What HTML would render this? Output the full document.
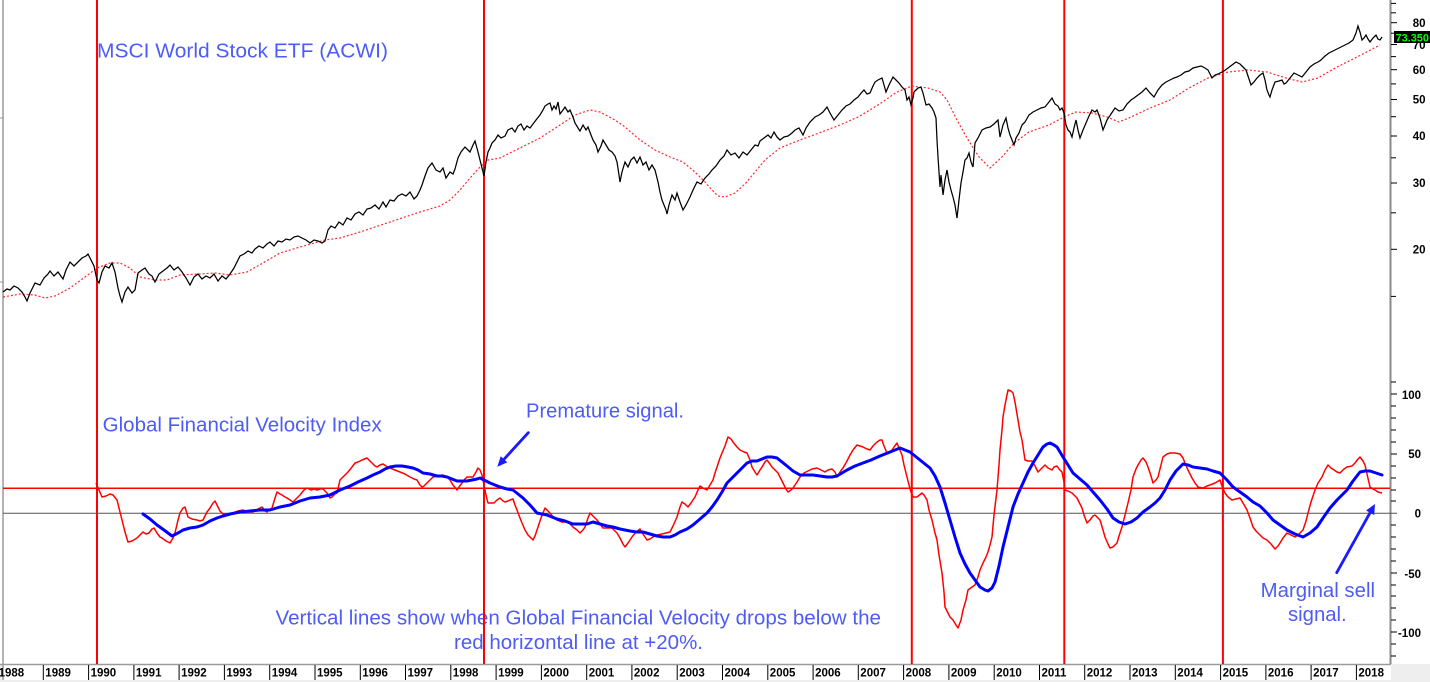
<!DOCTYPE html>
<html>
<head>
<meta charset="utf-8">
<style>
html,body{margin:0;padding:0;background:#fff;}
svg{display:block;}
.yl{font-family:"Liberation Sans",Arial,sans-serif;font-weight:bold;font-size:11.5px;fill:#000;}
.an{font-family:"Liberation Sans",Arial,sans-serif;font-size:20px;fill:#4d5cf6;}
</style>
</head>
<body>
<svg width="1430" height="682" viewBox="0 0 1430 682" xmlns="http://www.w3.org/2000/svg">
<rect x="0" y="0" width="1430" height="682" fill="#ffffff"/>
<!-- bottom strip -->
<rect x="0" y="664" width="1430" height="18" fill="#eeeeee"/>
<rect x="3" y="665" width="1388" height="15" fill="#ffffff"/>
<line x1="0" y1="664.5" x2="1391" y2="664.5" stroke="#9a9a9a" stroke-width="1.5"/>

<!-- left border -->
<line x1="3" y1="0" x2="3" y2="680" stroke="#9a9a9a" stroke-width="1.5"/>
<line x1="0" y1="118" x2="3" y2="118" stroke="#9a9a9a" stroke-width="1"/>
<line x1="0" y1="282" x2="3" y2="282" stroke="#9a9a9a" stroke-width="1"/>

<!-- year separators & labels -->
<g stroke="#000" stroke-width="1">
<line x1="43.3" y1="665" x2="43.3" y2="680"/>
<line x1="88.6" y1="665" x2="88.6" y2="680"/>
<line x1="133.9" y1="665" x2="133.9" y2="680"/>
<line x1="179.1" y1="665" x2="179.1" y2="680"/>
<line x1="224.4" y1="665" x2="224.4" y2="680"/>
<line x1="269.7" y1="665" x2="269.7" y2="680"/>
<line x1="315" y1="665" x2="315" y2="680"/>
<line x1="360.3" y1="665" x2="360.3" y2="680"/>
<line x1="405.5" y1="665" x2="405.5" y2="680"/>
<line x1="450.8" y1="665" x2="450.8" y2="680"/>
<line x1="496.1" y1="665" x2="496.1" y2="680"/>
<line x1="541.4" y1="665" x2="541.4" y2="680"/>
<line x1="586.7" y1="665" x2="586.7" y2="680"/>
<line x1="631.9" y1="665" x2="631.9" y2="680"/>
<line x1="677.2" y1="665" x2="677.2" y2="680"/>
<line x1="722.5" y1="665" x2="722.5" y2="680"/>
<line x1="767.8" y1="665" x2="767.8" y2="680"/>
<line x1="813.1" y1="665" x2="813.1" y2="680"/>
<line x1="858.3" y1="665" x2="858.3" y2="680"/>
<line x1="903.6" y1="665" x2="903.6" y2="680"/>
<line x1="948.9" y1="665" x2="948.9" y2="680"/>
<line x1="994.2" y1="665" x2="994.2" y2="680"/>
<line x1="1039.5" y1="665" x2="1039.5" y2="680"/>
<line x1="1084.7" y1="665" x2="1084.7" y2="680"/>
<line x1="1130" y1="665" x2="1130" y2="680"/>
<line x1="1175.3" y1="665" x2="1175.3" y2="680"/>
<line x1="1220.6" y1="665" x2="1220.6" y2="680"/>
<line x1="1265.9" y1="665" x2="1265.9" y2="680"/>
<line x1="1311.1" y1="665" x2="1311.1" y2="680"/>
<line x1="1356.4" y1="665" x2="1356.4" y2="680"/>
</g>
<g class="yl">
<text x="-1.4" y="676.5">1988</text>
<text x="45.3" y="676.5">1989</text>
<text x="90.6" y="676.5">1990</text>
<text x="135.9" y="676.5">1991</text>
<text x="181.1" y="676.5">1992</text>
<text x="226.4" y="676.5">1993</text>
<text x="271.7" y="676.5">1994</text>
<text x="317" y="676.5">1995</text>
<text x="362.3" y="676.5">1996</text>
<text x="407.5" y="676.5">1997</text>
<text x="452.8" y="676.5">1998</text>
<text x="498.1" y="676.5">1999</text>
<text x="543.4" y="676.5">2000</text>
<text x="588.7" y="676.5">2001</text>
<text x="633.9" y="676.5">2002</text>
<text x="679.2" y="676.5">2003</text>
<text x="724.5" y="676.5">2004</text>
<text x="769.8" y="676.5">2005</text>
<text x="815.1" y="676.5">2006</text>
<text x="860.3" y="676.5">2007</text>
<text x="905.6" y="676.5">2008</text>
<text x="950.9" y="676.5">2009</text>
<text x="996.2" y="676.5">2010</text>
<text x="1041.5" y="676.5">2011</text>
<text x="1086.7" y="676.5">2012</text>
<text x="1132" y="676.5">2013</text>
<text x="1177.3" y="676.5">2014</text>
<text x="1222.6" y="676.5">2015</text>
<text x="1267.9" y="676.5">2016</text>
<text x="1313.1" y="676.5">2017</text>
<text x="1358.4" y="676.5">2018</text>
</g>

<!-- right axis -->
<line x1="1390.5" y1="0" x2="1390.5" y2="664" stroke="#8a8a8a" stroke-width="2"/>
<g stroke="#000" stroke-width="1">
<line x1="1391" y1="3.4" x2="1396" y2="3.4"/>
<line x1="1391" y1="12.8" x2="1396" y2="12.8"/>
<line x1="1391" y1="22.7" x2="1397" y2="22.7"/>
<line x1="1391" y1="33.2" x2="1396" y2="33.2"/>
<line x1="1391" y1="44.5" x2="1397" y2="44.5"/>
<line x1="1391" y1="56.6" x2="1396" y2="56.6"/>
<line x1="1391" y1="69.7" x2="1397" y2="69.7"/>
<line x1="1391" y1="83.9" x2="1396" y2="83.9"/>
<line x1="1391" y1="99.5" x2="1397" y2="99.5"/>
<line x1="1391" y1="116.7" x2="1396" y2="116.7"/>
<line x1="1391" y1="136" x2="1397" y2="136"/>
<line x1="1391" y1="157.8" x2="1396" y2="157.8"/>
<line x1="1391" y1="183" x2="1397" y2="183"/>
<line x1="1391" y1="212.8" x2="1396" y2="212.8"/>
<line x1="1391" y1="249.3" x2="1397" y2="249.3"/>
<line x1="1391" y1="296.4" x2="1396" y2="296.4"/>
<!-- lower ticks -->
<line x1="1391" y1="382" x2="1396" y2="382"/>
<line x1="1391" y1="394" x2="1397" y2="394"/>
<line x1="1391" y1="406" x2="1396" y2="406"/>
<line x1="1391" y1="418" x2="1396" y2="418"/>
<line x1="1391" y1="430" x2="1396" y2="430"/>
<line x1="1391" y1="442" x2="1396" y2="442"/>
<line x1="1391" y1="454" x2="1397" y2="454"/>
<line x1="1391" y1="466" x2="1396" y2="466"/>
<line x1="1391" y1="478" x2="1396" y2="478"/>
<line x1="1391" y1="490" x2="1396" y2="490"/>
<line x1="1391" y1="501" x2="1396" y2="501"/>
<line x1="1391" y1="525" x2="1396" y2="525"/>
<line x1="1391" y1="537" x2="1396" y2="537"/>
<line x1="1391" y1="549" x2="1396" y2="549"/>
<line x1="1391" y1="561" x2="1396" y2="561"/>
<line x1="1391" y1="573" x2="1397" y2="573"/>
<line x1="1391" y1="585" x2="1396" y2="585"/>
<line x1="1391" y1="596" x2="1396" y2="596"/>
<line x1="1391" y1="608" x2="1396" y2="608"/>
<line x1="1391" y1="620" x2="1396" y2="620"/>
<line x1="1391" y1="632" x2="1397" y2="632"/>
<line x1="1391" y1="644" x2="1396" y2="644"/>
<line x1="1391" y1="656" x2="1396" y2="656"/>
</g>
<g class="yl" text-anchor="end">
<text x="1425.5" y="27">80</text>
<text x="1425.5" y="49">70</text>
<text x="1425.5" y="74">60</text>
<text x="1425.5" y="103.7">50</text>
<text x="1425.5" y="140.2">40</text>
<text x="1425.5" y="187.2">30</text>
<text x="1425.5" y="253.5">20</text>
<text x="1421" y="399">100</text>
<text x="1421" y="458">50</text>
<text x="1421" y="517.5">0</text>
<text x="1421" y="578">-50</text>
<text x="1421" y="637">-100</text>
</g>
<rect x="1394" y="31" width="36" height="12" fill="#000"/>
<text x="1395.5" y="41.3" font-family="'Liberation Sans',Arial,sans-serif" font-weight="bold" font-size="11" fill="#00ff00" textLength="33.5" lengthAdjust="spacingAndGlyphs">73.350</text>

<!-- annotations -->
<g class="an">
<text x="97" y="57.3" textLength="291" lengthAdjust="spacingAndGlyphs">MSCI World Stock ETF (ACWI)</text>
<text x="102.7" y="431.5" textLength="279" lengthAdjust="spacingAndGlyphs">Global Financial Velocity Index</text>
<text x="526" y="417.5" textLength="158" lengthAdjust="spacingAndGlyphs">Premature signal.</text>
<text x="275.5" y="624.5" textLength="605.5" lengthAdjust="spacingAndGlyphs">Vertical lines show when Global Financial Velocity drops below the</text>
<text x="454" y="649" textLength="249" lengthAdjust="spacingAndGlyphs">red horizontal line at +20%.</text>
<text x="1260.7" y="597" textLength="114.3" lengthAdjust="spacingAndGlyphs">Marginal sell</text>
<text x="1288" y="621" textLength="58.7" lengthAdjust="spacingAndGlyphs">signal.</text>
</g>

<!-- vertical red signal lines -->
<g stroke="#ff0000" stroke-width="2">
<line x1="97" y1="0" x2="97" y2="664"/>
<line x1="484" y1="0" x2="484" y2="664"/>
<line x1="911.8" y1="0" x2="911.8" y2="664"/>
<line x1="1064.3" y1="0" x2="1064.3" y2="664"/>
<line x1="1222.9" y1="0" x2="1222.9" y2="664"/>
</g>

<!-- horizontal lines -->
<line x1="3" y1="513.3" x2="1397" y2="513.3" stroke="#555555" stroke-width="1"/>
<line x1="3" y1="488.3" x2="1390" y2="488.3" stroke="#ff0000" stroke-width="1.5"/>

<!-- red dotted moving average -->
<polyline fill="none" stroke="#ff2a2a" stroke-width="1.2" stroke-dasharray="2 2" points="3,297 20,294 35,295 45,298 55,296 70,288 85,277 97,268 110,263 120,263 130,268 140,277 155,280 167,280 180,275 200,274 215,273 230,275 247,272 263,263 280,253 300,247 325,240 340,238 360,232 390,222 420,212 440,206 450,200 460,190 470,178 480,167 488,160 500,158 520,148 540,138 560,125 575,115 590,110 600,112 615,120 625,127 640,140 655,150 670,157 683,162 695,172 705,182 712,190 718,196 725,197 735,193 745,184 755,172 765,160 780,148 800,140 819,133 840,125 858,117 870,110 881,103 897,92 912,86 928,88 940,92 947,100 957,120 967,138 979,157 990,168 1002,157 1014,143 1029,132 1049,125 1064,117 1076,112 1092,113 1107,117 1119,122 1131,117 1150,108 1170,100 1189,88 1208,78 1228,72 1248,70 1267,72 1286,78 1302,82 1318,78 1337,67 1357,57 1380,45"/>

<!-- black price line -->
<polyline fill="none" stroke="#000" stroke-width="1.25" stroke-linejoin="miter" points="3,292 7,289 10,290 14,286 18,288 22,292 25,297 27,301 30,293 35,283 40,285 44,278 48,274 50,271 54,276 58,272 63,279 66,270 70,262 74,266 78,262 82,258 86,256 88,254 91,260 94,266 97,280 99,283 102,272 105,266 109,268 112,263 115,272 118,288 120,296 122,302 125,292 128,287 132,293 135,290 138,273 142,270 145,268 149,274 152,276 155,282 159,274 163,271 167,268 170,265 174,270 178,267 182,272 186,278 190,285 194,277 198,274 202,279 206,276 210,278 214,274 218,281 222,276 226,279 230,274 234,268 237,262 240,256 244,254 248,251 252,253 255,249 259,246 263,248 267,244 270,242 274,246 278,241 282,242 286,239 290,240 294,237 298,236 302,238 306,240 310,243 314,240 318,241 322,243 325,241 328,230 331,226 335,228 339,222 343,225 347,218 351,220 355,214 359,212 363,215 367,209 371,208 375,205 379,209 383,202 386,207 390,200 394,201 398,196 402,194 406,196 410,192 414,199 417,196 420,190 422,185 425,176 428,168 432,163 436,170 440,172 443,168 446,178 450,172 453,174 455,169 458,158 461,152 465,147 468,150 470,152 473,145 475,141 478,152 480,160 482,168 484,176 486,162 488,152 490,148 492,143 495,140 498,135 501,138 505,136 508,130 512,128 515,132 518,126 521,124 524,130 527,126 530,128 533,124 536,120 540,115 543,110 545,106 548,104 550,103 552,110 554,106 556,109 558,102 560,114 563,110 565,107 568,112 570,110 573,117 575,123 578,128 580,131 583,125 586,130 588,127 591,135 593,140 596,145 598,152 601,146 603,140 606,145 609,150 612,152 615,156 617,162 619,175 620,182 622,172 625,162 628,167 631,160 634,157 637,163 640,157 643,165 646,162 649,170 652,165 655,170 658,182 660,192 662,200 664,205 666,210 667,214 669,205 672,195 675,200 677,193 680,202 683,210 686,205 690,197 693,190 697,182 701,184 705,178 709,174 712,170 716,166 720,160 724,156 727,150 731,155 735,153 739,158 743,152 747,155 751,150 755,145 758,146 760,141 764,138 768,135 771,138 774,132 777,137 780,140 784,137 788,136 792,133 795,130 799,128 803,135 806,128 810,122 815,117 819,115 823,112 827,107 830,113 834,120 838,115 842,110 846,106 850,104 854,100 858,97 862,92 864,90 867,94 870,93 873,86 875,82 878,80 882,78 884,85 886,92 889,85 893,77 896,80 899,83 902,87 905,90 907,100 909,97 911,105 913,98 914,92 916,90 918,88 921,87 923,93 926,105 929,104 932,108 934,112 936,118 937,140 938,157 940,187 941,175 943,195 945,180 947,170 949,182 951,190 953,197 955,205 957,218 959,200 961,183 963,172 965,160 967,158 969,153 971,162 973,167 975,143 978,138 982,130 986,128 990,127 994,124 998,120 1000,137 1003,125 1006,118 1008,128 1010,135 1012,140 1014,145 1016,138 1019,133 1022,125 1025,122 1029,115 1033,112 1037,110 1041,108 1045,107 1049,102 1052,98 1055,104 1058,106 1060,110 1062,108 1064,113 1066,125 1068,130 1070,132 1072,137 1074,128 1076,120 1078,130 1080,138 1083,130 1086,123 1089,116 1092,110 1095,112 1097,110 1100,118 1103,130 1105,125 1107,120 1111,114 1115,108 1119,111 1123,110 1127,104 1131,100 1134,98 1138,95 1142,92 1146,88 1150,93 1154,97 1158,90 1162,85 1166,82 1170,80 1174,78 1177,77 1181,75 1185,72 1189,71 1193,68 1197,67 1201,66 1205,68 1208,70 1210,74 1212,78 1215,75 1218,74 1220,73 1224,71 1228,68 1232,65 1236,62 1240,64 1243,67 1246,70 1248,76 1251,85 1254,82 1257,78 1260,75 1263,73 1265,80 1267,90 1269,95 1270,97 1272,90 1275,82 1279,81 1282,80 1284,84 1286,83 1290,78 1294,73 1298,75 1302,77 1306,72 1310,67 1314,64 1318,62 1321,60 1325,56 1329,53 1333,51 1337,49 1341,47 1345,45 1349,43 1353,40 1356,33 1358,26 1360,32 1362,40 1364,38 1366,35 1368,39 1370,42 1373,38 1376,35 1378,39 1380,40 1382,37"/>

<!-- red velocity line -->
<polyline fill="none" stroke="#ff0000" stroke-width="1.5" stroke-linejoin="round" points="96,483 99,490 102,497 106,496 110,494 113,495 117,500 120,512 122,520 125,532 128,542 132,541 137,538 140,535 143,532 146,534 149,533 152,529 154,528 157,533 160,537 162,538 166,541 170,543 173,538 175,533 178,520 180,513 183,508 185,507 188,517 192,519 197,520 200,521 203,520 207,512 210,508 213,503 215,501 218,507 220,511 223,514 228,514 233,513 238,511 243,510 248,512 253,512 258,509 262,507 265,511 267,512 270,509 272,508 275,498 277,492 280,494 282,495 285,497 287,498 290,500 293,502 296,499 300,495 304,490 307,488 311,490 314,489 317,490 320,489 323,489 327,493 330,498 332,497 335,494 337,493 340,480 344,476 348,472 352,467 355,463 358,462 362,460 367,458 370,461 372,463 375,466 377,467 380,465 383,464 386,466 390,468 395,470 400,472 405,474 410,477 414,479 417,480 420,485 422,487 424,486 427,483 430,480 433,477 438,476 443,475 447,477 450,480 453,485 457,490 459,487 462,483 465,479 467,477 470,477 473,477 476,472 478,468 480,470 482,475 484,485 486,495 488,503 491,503 494,503 497,500 500,498 503,501 505,502 508,501 510,500 513,499 515,505 517,510 520,518 522,523 525,530 528,535 531,538 533,540 535,536 538,527 541,518 545,508 548,511 550,513 553,517 557,520 562,522 567,522 570,524 573,527 577,530 580,533 583,530 585,527 588,518 590,513 593,516 597,520 600,524 603,528 608,528 612,528 615,531 617,533 620,538 623,544 625,547 628,543 632,537 636,532 640,529 643,534 647,540 650,539 653,537 657,535 662,534 666,533 670,532 673,526 677,517 680,507 682,502 685,504 688,507 691,503 695,497 698,490 700,486 703,488 707,490 710,485 713,480 715,473 717,467 720,458 722,453 725,446 728,437 731,439 733,442 737,447 740,450 744,452 747,453 750,460 752,467 755,472 757,475 760,470 762,467 765,462 767,460 770,464 772,467 775,470 778,473 781,479 783,483 786,489 788,492 791,490 793,488 797,482 800,477 804,473 808,471 812,469 817,468 821,470 825,472 828,470 832,469 835,472 837,477 840,472 843,468 847,461 850,455 853,450 857,445 860,446 863,447 867,449 870,450 873,446 877,442 880,440 882,440 884,446 887,453 889,452 892,450 894,447 897,443 899,448 902,455 904,465 907,477 909,485 911,492 913,497 917,497 922,493 924,495 927,500 929,510 932,520 935,533 937,540 939,555 942,573 944,592 945,607 948,613 950,617 953,620 956,625 958,628 961,620 963,610 966,600 968,590 972,587 975,585 978,577 980,570 983,563 986,557 988,552 990,545 992,537 994,515 997,490 999,465 1000,450 1002,430 1003,417 1005,405 1008,390 1011,391 1013,393 1015,402 1018,420 1020,432 1022,440 1025,460 1028,461 1032,461 1035,466 1038,472 1041,469 1045,465 1048,468 1052,470 1054,467 1057,466 1059,469 1062,472 1064,482 1065,490 1068,491 1072,493 1075,496 1077,498 1080,504 1082,508 1084,515 1087,523 1090,520 1093,516 1095,515 1098,518 1100,520 1103,530 1105,537 1108,544 1110,548 1113,547 1117,543 1119,536 1122,527 1125,515 1128,503 1131,490 1133,477 1136,469 1138,465 1141,460 1143,458 1146,462 1148,467 1151,476 1153,483 1156,480 1158,477 1161,465 1163,457 1167,454 1170,453 1175,453 1180,454 1183,458 1185,463 1188,470 1192,478 1195,483 1198,487 1203,488 1207,486 1210,485 1215,483 1220,480 1222,486 1225,493 1228,497 1232,500 1236,499 1240,498 1243,503 1247,510 1250,518 1253,527 1256,531 1260,535 1263,538 1267,540 1271,544 1275,549 1278,546 1280,543 1283,538 1287,533 1291,535 1295,537 1299,534 1303,530 1306,521 1308,513 1311,502 1315,490 1318,483 1322,477 1325,470 1328,465 1331,468 1334,470 1337,472 1340,473 1344,469 1347,467 1352,466 1355,463 1358,459 1360,457 1363,461 1365,465 1367,474 1370,487 1373,489 1375,490 1378,492 1382,493"/>

<!-- blue smoothed line -->
<polyline fill="none" stroke="#0000ff" stroke-width="3" stroke-linejoin="round" stroke-linecap="round" points="143,514 150,519 157,525 164,530 172,536 178,533 183,530 190,528 197,527 203,525 210,521 217,518 223,516 230,514 240,512 250,511 260,510 270,510 280,507 290,505 300,501 310,498 320,497 330,495 340,490 350,486 358,482 367,478 373,475 380,472 385,469 390,467 396,466 402,466 408,467 413,468 418,470 423,473 430,474 437,476 442,476 447,477 452,479 457,481 462,481 467,481 472,480 477,479 480,478 484,480 490,483 495,485 500,487 507,489 513,490 518,494 523,498 530,505 537,513 542,514 547,515 552,517 557,519 565,521 573,524 580,524 587,524 593,522 600,524 607,526 613,527 620,529 630,531 637,532 643,532 650,534 657,536 663,537 670,537 675,535 680,532 687,529 693,525 700,519 707,513 712,507 717,500 722,492 727,483 732,478 737,473 742,468 747,463 752,461 757,461 762,459 767,457 772,457 777,458 782,462 787,466 793,471 800,475 806,475 813,475 820,476 827,477 832,477 837,476 842,473 847,470 855,466 863,463 871,460 880,456 885,454 890,452 895,450 900,448 905,450 910,452 915,456 920,460 925,464 930,468 935,476 940,487 945,503 950,520 955,537 960,553 965,564 970,573 975,580 980,587 985,590 988,591 992,588 995,582 999,566 1003,547 1008,527 1013,507 1018,494 1023,483 1028,472 1033,463 1038,455 1043,447 1047,444 1050,443 1054,445 1057,447 1060,452 1063,457 1068,465 1073,473 1080,479 1087,485 1093,492 1100,500 1107,509 1113,518 1119,522 1125,524 1131,522 1137,518 1143,512 1150,507 1155,503 1160,498 1165,490 1170,480 1176,471 1183,464 1188,465 1193,467 1200,468 1207,469 1213,471 1220,473 1227,480 1233,487 1240,492 1247,497 1253,502 1260,506 1267,513 1273,520 1280,525 1287,530 1295,534 1303,537 1310,533 1317,527 1323,518 1330,508 1337,500 1347,490 1353,481 1360,472 1365,471 1370,471 1376,473 1382,475"/>

<!-- arrows -->
<line x1="528.3" y1="432.7" x2="503.5" y2="459.8" stroke="#1a1aff" stroke-width="2.8" stroke-linecap="round"/>
<polygon points="497.3,466.7 507.3,462.4 500.7,456.3" fill="#1a1aff"/>
<line x1="1336.7" y1="572.7" x2="1370" y2="512.8" stroke="#1a1aff" stroke-width="2.8" stroke-linecap="round"/>
<polygon points="1375,504 1374.2,515.1 1366.1,510.5" fill="#1a1aff"/>
</svg>
</body>
</html>
